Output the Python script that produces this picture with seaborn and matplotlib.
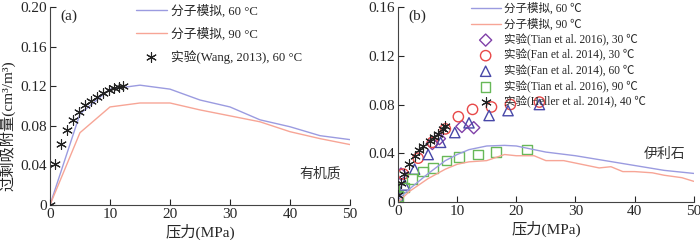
import numpy as np
import pandas as pd
import seaborn as sns
import matplotlib
matplotlib.use('Agg')
import matplotlib.pyplot as plt

sns.set_style('ticks')
plt.rcParams['font.family'] = ['Liberation Serif', 'Noto Sans CJK SC', 'DejaVu Sans']
plt.rcParams['xtick.direction'] = 'in'
plt.rcParams['ytick.direction'] = 'in'

# ---- panel (a): organic matter ----
a_sim60_p = [0, 5, 10, 15, 20, 25, 30, 35, 40, 45, 50]
a_sim60_q = [0, 0.092, 0.117, 0.121, 0.117, 0.106, 0.099, 0.086, 0.079, 0.070, 0.066]
a_sim90_p = [0, 5, 10, 15, 20, 25, 30, 35, 40, 45, 50]
a_sim90_q = [0, 0.073, 0.099, 0.103, 0.103, 0.096, 0.090, 0.084, 0.074, 0.067, 0.061]
a_wang_p = [0, 0.8, 1.8, 2.9, 3.9, 4.9, 5.9, 6.8, 7.8, 8.8, 9.8, 10.7, 11.5, 12.2]
a_wang_q = [0, 0.041, 0.062, 0.076, 0.086, 0.094, 0.101, 0.105, 0.109, 0.113, 0.116, 0.118, 0.119, 0.120]

# ---- panel (b): illite ----
b_sim60_p = [0, 2, 5, 8, 10, 12, 15, 18, 20, 25, 30, 35, 40, 45, 50]
b_sim60_q = [0.002, 0.011, 0.023, 0.034, 0.039, 0.043, 0.046, 0.0465, 0.046, 0.041, 0.038, 0.034, 0.030, 0.026, 0.0235]
b_sim90_p = [0, 2, 5, 8, 10, 12, 15, 18, 20, 23, 25, 28, 30, 34, 36, 38, 40, 43, 45, 48, 50]
b_sim90_q = [0, 0.009, 0.019, 0.027, 0.031, 0.033, 0.034, 0.039, 0.038, 0.038, 0.034, 0.034, 0.032, 0.028, 0.029, 0.025, 0.025, 0.024, 0.022, 0.020, 0.017]
tian30_p = [0.5, 5.8, 7.0, 10.8, 12.8]
tian30_q = [0.023, 0.048, 0.052, 0.062, 0.061]
fan30_p = [0.9, 3.4, 5.8, 8.0, 10.2, 12.6, 15.8, 19.0, 23.9]
fan30_q = [0.023, 0.036, 0.049, 0.060, 0.070, 0.076, 0.078, 0.080, 0.082]
fan60_p = [0, 1.1, 2.8, 5.1, 7.2, 9.6, 12.0, 15.4, 18.6, 23.9]
fan60_q = [0.005, 0.014, 0.027, 0.039, 0.049, 0.057, 0.065, 0.071, 0.075, 0.080]
tian90_p = [0, 1.0, 2.4, 4.2, 5.9, 8.2, 10.3, 13.5, 16.6, 21.8]
tian90_q = [0.005, 0.012, 0.019, 0.025, 0.028, 0.034, 0.037, 0.039, 0.041, 0.043]
heller_p = [0, 0.5, 1.0, 1.9, 2.8, 3.5, 4.2, 5.4, 6.0, 6.8, 7.6, 8.0]
heller_q = [0.006, 0.016, 0.023, 0.031, 0.038, 0.043, 0.046, 0.050, 0.053, 0.056, 0.060, 0.062]

blue_line = '#9b9be0'
red_line = '#f7a596'


def ref_label(author, year, temp):
    return '实验(%s et al. %s), %s ℃' % (author, year, temp)


fig = plt.figure(figsize=(7, 2.4), dpi=100)
ax1 = fig.add_axes([0.0714, 0.146, 0.4286, 0.825])
ax2 = fig.add_axes([0.5686, 0.158, 0.4225, 0.813])

# panel a
sns.lineplot(x=a_sim60_p, y=a_sim60_q, ax=ax1, color=blue_line, lw=1, label='分子模拟, 60 °C')
sns.lineplot(x=a_sim90_p, y=a_sim90_q, ax=ax1, color=red_line, lw=1, label='分子模拟, 90 °C')
sns.scatterplot(x=a_wang_p, y=a_wang_q, ax=ax1, marker=(6, 2, 0), color='#222222',
                s=50, linewidth=0.8, label='实验(Wang, 2013), 60 °C', zorder=5)
ax1.set_xlim(0, 50)
ax1.set_ylim(0, 0.2)
ax1.set_xticks([0, 10, 20, 30, 40, 50])
ax1.set_yticks([0, 0.04, 0.08, 0.12, 0.16, 0.20])
ax1.set_yticklabels(['0', '0.04', '0.08', '0.12', '0.16', '0.20'])
ax1.set_xlabel('压力(MPa)', fontsize=11, labelpad=2)
ax1.set_ylabel('过剩吸附量(cm³/m³)', fontsize=11)
ax1.yaxis.set_label_coords(-0.115, 0.40)
ax1.text(0.035, 0.985, '(a)', transform=ax1.transAxes, fontsize=11, va='top')
ax1.text(45, 0.031, '有机质', fontsize=10, ha='center', va='center', color='#333333')
ax1.legend(loc='upper left', bbox_to_anchor=(0.27, 1.04), frameon=False, fontsize=9.2,
           handlelength=2.4, labelspacing=0.75, handletextpad=0.3, scatterpoints=1,
           borderaxespad=0)

# panel b
sns.lineplot(x=b_sim60_p, y=b_sim60_q, ax=ax2, color=blue_line, lw=1, label='分子模拟, 60 ℃')
sns.lineplot(x=b_sim90_p, y=b_sim90_q, ax=ax2, color=red_line, lw=1, label='分子模拟, 90 ℃')
mk = dict(s=55, facecolor='none', linewidth=1, ax=ax2)
sns.scatterplot(x=tian30_p, y=tian30_q, marker='D', edgecolor='#8040a8',
                label=ref_label('Tian', '2016', '30'), **dict(mk, s=38))
sns.scatterplot(x=fan30_p, y=fan30_q, marker='o', edgecolor='#e84848',
                label=ref_label('Fan', '2014', '30'), **mk)
sns.scatterplot(x=fan60_p, y=fan60_q, marker='^', edgecolor='#4848a8',
                label=ref_label('Fan', '2014', '60'), **mk)
sns.scatterplot(x=tian90_p, y=tian90_q, marker='s', edgecolor='#68b858',
                label=ref_label('Tian', '2016', '90'), **dict(mk, s=48))
sns.scatterplot(x=heller_p, y=heller_q, marker=(6, 2, 0), color='#222222', s=48, linewidth=0.8,
                ax=ax2, label=ref_label('Heller', '2014', '40'), zorder=5)
ax2.set_xlim(0, 50)
ax2.set_ylim(0, 0.16)
ax2.set_xticks([0, 10, 20, 30, 40, 50])
ax2.set_yticks([0, 0.04, 0.08, 0.12, 0.16])
ax2.set_yticklabels(['0', '0.04', '0.08', '0.12', '0.16'])
ax2.set_xlabel('压力(MPa)', fontsize=11, labelpad=2)
ax2.text(0.035, 0.985, '(b)', transform=ax2.transAxes, fontsize=11, va='top')
ax2.text(45, 0.039, '伊利石', fontsize=10, ha='center', va='center', color='#333333')
ax2.legend(loc='upper left', bbox_to_anchor=(0.23, 1.045), frameon=False, fontsize=8.3,
           handlelength=2.6, labelspacing=0.28, handletextpad=0.3, scatterpoints=1,
           borderaxespad=0)

for ax in (ax1, ax2):
    sns.despine(ax=ax)
    ax.tick_params(labelsize=11, length=4, width=0.8, pad=2)
    for sp in ax.spines.values():
        sp.set_color('#444444')

fig.savefig('out.png', dpi=100)
